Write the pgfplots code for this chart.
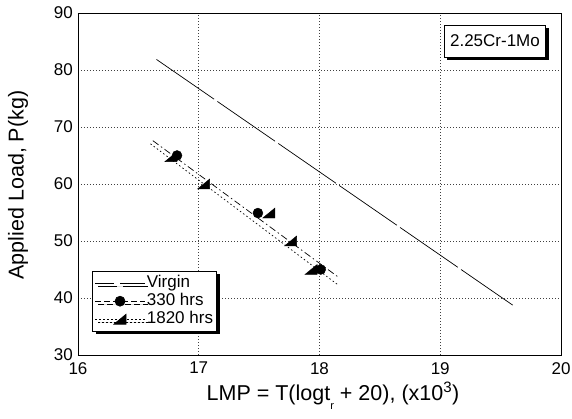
\documentclass[border=0pt]{standalone}
\usepackage{fontspec}
\setmainfont{Liberation Sans}
\usepackage{pgfplots}
\pgfplotsset{compat=1.18}
\usetikzlibrary{shadows}

\pgfdeclareplotmark{rtri}{%
  \pgfpathmoveto{\pgfpoint{-1.1\pgfplotmarksize}{-0.9\pgfplotmarksize}}%
  \pgfpathlineto{\pgfpoint{1.1\pgfplotmarksize}{-0.9\pgfplotmarksize}}%
  \pgfpathlineto{\pgfpoint{1.1\pgfplotmarksize}{0.9\pgfplotmarksize}}%
  \pgfpathclose\pgfusepathqfillstroke}

\newcommand\tickfont{\fontsize{17}{20}\selectfont}
\newcommand\labelfont{\fontsize{21.5}{24}\selectfont}
\newcommand\legfont{\fontsize{17}{18}\selectfont}

\pgfplotstableread{
x y
16.65 81.85
19.60 38.75
}\virginline
\pgfplotstableread{
x y
16.62 67.6
18.16 43.6
}\lineA
\pgfplotstableread{
x y
16.82 65.0
17.49 54.9
18.01 45.0
}\ptsA
\pgfplotstableread{
x y
16.60 67.05
18.16 42.2
}\lineB
\pgfplotstableread{
x y
16.77 64.8
17.04 60.0
17.58 54.9
17.76 50.0
17.93 45.0
}\ptsB

\begin{document}
\begin{tikzpicture}
\begin{axis}[
  scale only axis, width=483pt, height=342pt,
  xmin=16, xmax=20, ymin=30, ymax=90,
  xtick={16,17,18,19,20}, ytick={30,40,50,60,70,80,90},
  grid=major,
  major grid style={black!75, dash pattern=on 1pt off 2pt, line width=0.6pt},
  axis line style={line width=0.8pt},
  tick style={draw=none},
  /pgf/number format/assume math mode=true,
  ticklabel style={font=\tickfont},
  yticklabel style={anchor=east, inner sep=0pt, xshift=-5pt},
  xticklabel style={anchor=north, inner sep=0pt, yshift=-7pt},
  xlabel={LMP = T(logt\raisebox{-9pt}{\fontsize{11}{11}\selectfont r} + 20), (x10\textsuperscript{3})},
  xlabel style={font=\labelfont, at={(axis description cs:0.528,-0.1316)}, anchor=base},
  ylabel={Applied Load, P(kg)},
  ylabel style={font=\labelfont, at={(axis description cs:-0.124,0.497)}, anchor=center},
  legend style={at={(axis description cs:0.030,0.2456)}, anchor=north west,
    draw=black, fill=white, font=\legfont,
    drop shadow={shadow xshift=3pt, shadow yshift=-3pt, fill=black, opacity=1},
    inner xsep=2pt, inner ysep=3pt, row sep=0pt,
    nodes={inner ysep=1pt, inner xsep=1.5pt, text height=12pt, text depth=4pt}},
  legend cell align=left,
  legend image code/.code={\draw[mark repeat=2,mark phase=2] plot coordinates {(0pt,0pt) (25pt,0pt) (50pt,0pt)};},
]
\coordinate (SW) at (rel axis cs:0,0);
\coordinate (NE) at (rel axis cs:1,1);

\addlegendimage{black, line width=0.7pt, dash pattern=on 19pt off 6pt on 30pt off 0pt}
\addlegendentry{Virgin}
\addlegendimage{black, line width=0.7pt, dash pattern=on 6pt off 3pt, mark=*, mark size=5pt, mark options={solid}}
\addlegendentry{330 hrs}
\addlegendimage{black, line width=0.7pt, dash pattern=on 1.5pt off 2.5pt, mark=rtri, mark size=5.5pt, mark options={solid}}
\addlegendentry{1820 hrs\hspace{6pt}}

\addplot[forget plot, black, line width=0.7pt, dash pattern=on 70pt off 4pt] table {\virginline};
\addplot[forget plot, black, line width=0.7pt, dash pattern=on 7pt off 3pt on 1.5pt off 3pt] table {\lineA};
\addplot[forget plot, black, line width=0.7pt, dash pattern=on 1.5pt off 2.5pt] table {\lineB};
\addplot[forget plot, only marks, mark=rtri, mark size=5.5pt, black, fill=black] table {\ptsB};
\addplot[forget plot, only marks, mark=*, mark size=5pt, black, fill=black] table {\ptsA};

\node[draw=black, fill=white, line width=0.8pt, font=\legfont, inner xsep=6pt, minimum height=32pt,
  drop shadow={shadow xshift=3pt, shadow yshift=-3pt, fill=black, opacity=1}]
  at (axis cs:19.453,85.09) {2.25Cr-1Mo};
\end{axis}
\pgfresetboundingbox
\path[use as bounding box] ([shift={(-78pt,-64pt)}]SW) rectangle ([shift={(11pt,13pt)}]NE);
\end{tikzpicture}
\end{document}
